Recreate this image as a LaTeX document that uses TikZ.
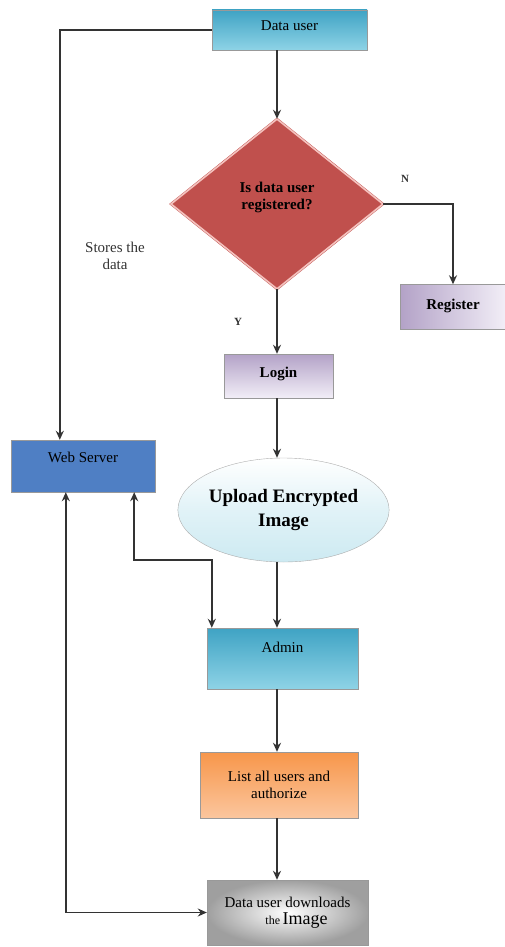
\documentclass[tikz,border=0pt]{standalone}
\usepackage{fontspec}
\setmainfont{Liberation Serif}
\usepackage{tikz}
\usetikzlibrary{arrows.meta,positioning,shapes.geometric,calc}
\definecolor{cyantop}{HTML}{3FA3C4}
\definecolor{cyanlow}{HTML}{8ED3E6}
\definecolor{redbox}{HTML}{C0504D}
\definecolor{redpale}{HTML}{F4C2BE}
\definecolor{lavdark}{HTML}{B3A2C7}
\definecolor{lavpale}{HTML}{F2EEF7}
\definecolor{serverblue}{HTML}{4F7FC4}
\definecolor{skypale}{HTML}{CDEAF2}
\definecolor{orangebox}{HTML}{F7964A}
\definecolor{orangepale}{HTML}{FBC69E}
\definecolor{linegrey}{HTML}{333333}
\newcommand{\fcfont}{\fontsize{15}{17}\selectfont}
\tikzset{
  fctip/.tip={Stealth[length=9pt,width=8pt]},
  fcbox/.style={draw=linegrey!50, rectangle, align=center, font=\fcfont, inner sep=3pt},
  fccyan/.style={fcbox, top color=cyantop, bottom color=cyanlow},
  fclav/.style={fcbox, top color=lavdark, bottom color=lavpale, font=\fcfont\bfseries},
  fcdecision/.style={diamond, draw=redbox, double=redpale, double distance=1.6pt, fill=redbox,
    minimum width=212pt, minimum height=170pt, inner sep=0pt, align=center, font=\fcfont\bfseries},
  fcarrow/.style={-fctip, line width=1.6pt, linegrey},
  fclabel/.style={font=\fcfont, text=linegrey, align=center},
}
\begin{document}
\begin{tikzpicture}[x=1pt, y=-1pt]
  \useasboundingbox (0,0) rectangle (504,947);
  \coordinate (spine) at (277,0);
  % main column
  \node[fccyan, minimum width=155pt, minimum height=40pt, text depth=9pt] (du) at (289.5,30) {Data user};
  \node[fcdecision] (dec) at (277,204) {Is data user\\registered?\\\mbox{}};
  \node[fclav, minimum width=106pt, minimum height=45pt, text depth=5pt, left color=lavdark, right color=lavpale] (reg) at (453,307) {Register};
  \node[fclav, minimum width=109pt, minimum height=44pt, text depth=8pt] (login) at (278.5,376) {Login};
  \node[ellipse, draw=linegrey!40, top color=white, bottom color=skypale, middle color=skypale!60,
    minimum width=207pt, minimum height=104pt, inner sep=0pt, align=center,
    font=\fontsize{19}{24}\selectfont\bfseries] (up) at (283.5,510) {Upload Encrypted\\Image};
  \node[fcbox, fill=serverblue, minimum width=144pt, minimum height=52pt, text depth=18pt] (ws) at (83,466) {Web Server};
  \node[fccyan, minimum width=151pt, minimum height=61pt, text depth=22pt] (adm) at (282.5,658.5) {Admin};
  \node[fcbox, top color=orangebox, bottom color=orangepale, minimum width=158pt, minimum height=66pt] (lst) at (279,785) {List all users and\\authorize};
  \node[fcbox, shading=radial, inner color=white, outer color=gray!75, minimum width=161pt, minimum height=65pt] (dl) at (287.5,912.5)
    {Data user downloads\\\hspace*{1.2em}{\fontsize{12}{14}\selectfont the}\,{\fontsize{18}{20}\selectfont Image}};
  % flow
  \draw[fcarrow] (du.south -| spine) -- (dec.north);
  \draw[fcarrow] (dec.east) -| (reg.north);
  \draw[fcarrow] (dec.south) -- (login.north -| spine);
  \draw[fcarrow] (login.south -| spine) -- (up.north -| spine);
  \draw[fcarrow] (up.south -| spine) -- (adm.north -| spine);
  \draw[fcarrow] (adm.south -| spine) -- (lst.north -| spine);
  \draw[fcarrow] (lst.south -| spine) -- (dl.north -| spine);
  % web server links
  \draw[fcarrow] (du.west) -| ($(ws.north west)+(49,0)$);
  \draw[fcarrow, fctip-fctip] ($(ws.south east)+(-21,0)$) -- ++(0,68) -| ($(adm.north west)+(5,0)$);
  \draw[fcarrow, fctip-fctip] ($(ws.south west)+(55,0)$) |- (dl.west);
  % labels
  \node[fclabel] (stores) at (115,256) {Stores the\\data};
  \node[fclabel, font=\fontsize{11}{13}\selectfont\bfseries] (nlab) at (405,179) {N};
  \node[fclabel, font=\fontsize{11}{13}\selectfont\bfseries] (ylab) at (238,322) {Y};
\end{tikzpicture}
\end{document}
